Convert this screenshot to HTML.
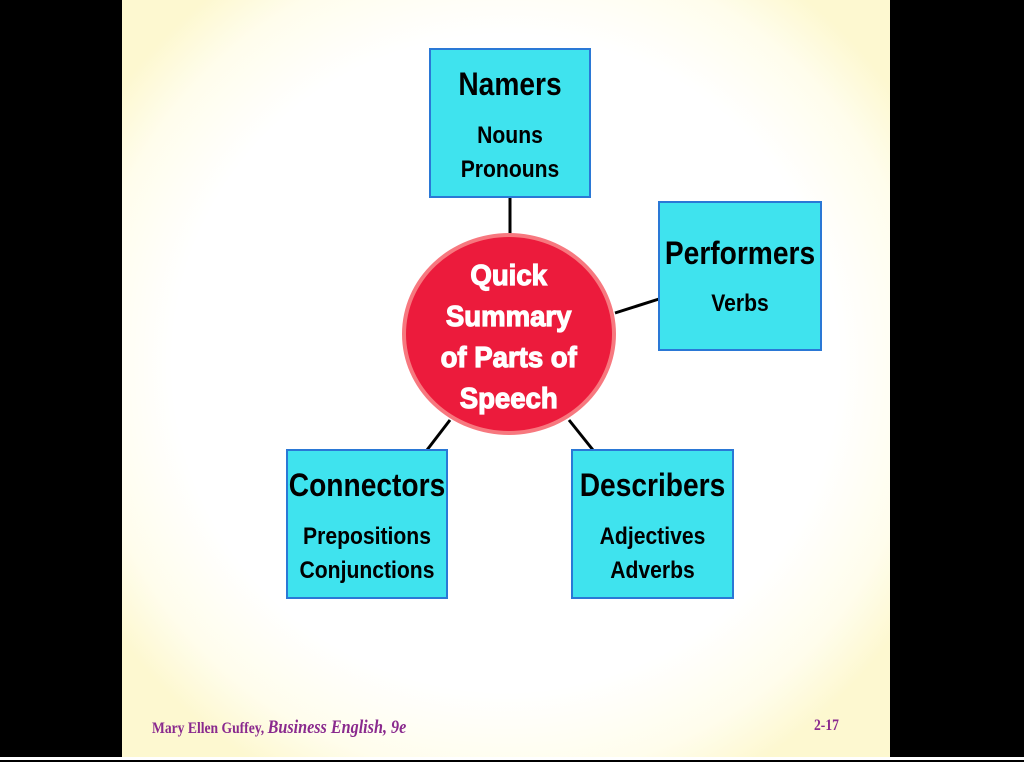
<!DOCTYPE html>
<html><head><style>
body{margin:0;width:1024px;height:768px;background:#000;position:relative;overflow:hidden;font-family:"Liberation Sans",Arial,sans-serif}
.slide{position:absolute;left:122px;top:0;width:768px;height:757px;background:radial-gradient(ellipse 62% 62% at 50% 48%,#fff 70%,#fffdec 88%,#fdf8d0 100%)}
.strip{position:absolute;left:0;top:757px;width:1024px;height:11px;background:#fff}
.strip div{position:absolute;top:3px;height:2px;background:#000}
.box{position:absolute;background:#3fe3ee;border:2px solid #2a78d6;box-sizing:border-box;text-align:center;font-weight:bold;color:#000}
.box div{transform:scaleX(0.88);white-space:nowrap;margin-left:-20px;margin-right:-20px}
.box .t{font-size:32px;margin-top:14px;line-height:40px}
.box .s{font-size:24px;line-height:34px;margin-top:15px}
.circ{position:absolute;left:402px;top:233px;width:214px;height:202px;border-radius:50%;background:#ec1b3c;border:4px solid #f7787f;box-sizing:border-box;color:#fff;font-weight:bold;font-size:29px;line-height:41px;text-align:center;padding-top:19px;-webkit-text-stroke:1.2px #fff}
.circ span{display:inline-block;transform:scaleX(0.95)}
.foot{position:absolute;top:717px;color:#8a2a8e;font-family:"Liberation Serif",serif;font-weight:bold;font-size:16px;transform-origin:left;transform:scaleX(0.85)}
</style></head><body>
<div class="slide"></div>
<div class="strip"><div style="left:0;width:1024px"></div></div>
<svg style="position:absolute;left:0;top:0" width="1024" height="768">
<g stroke="#000" stroke-width="3">
<line x1="510" y1="198" x2="510" y2="234"/>
<line x1="615" y1="313" x2="659" y2="299"/>
<line x1="450" y1="420" x2="427" y2="450"/>
<line x1="569" y1="420" x2="593" y2="450"/>
</g></svg>
<div class="box" style="left:429px;top:48px;width:162px;height:150px"><div class="t">Namers</div><div class="s">Nouns<br>Pronouns</div></div>
<div class="box" style="left:658px;top:201px;width:164px;height:150px"><div class="t" style="margin-top:30px">Performers</div><div class="s" style="margin-top:14px">Verbs</div></div>
<div class="box" style="left:286px;top:449px;width:162px;height:150px"><div class="t">Connectors</div><div class="s">Prepositions<br>Conjunctions</div></div>
<div class="box" style="left:571px;top:449px;width:163px;height:150px"><div class="t">Describers</div><div class="s">Adjectives<br>Adverbs</div></div>
<div class="circ"><span>Quick<br>Summary<br>of Parts of<br>Speech</span></div>
<div class="foot" style="left:152px">Mary Ellen Guffey, <i style="font-size:19px">Business English, 9e</i></div>
<div class="foot" style="left:814px">2-17</div>
</body></html>
